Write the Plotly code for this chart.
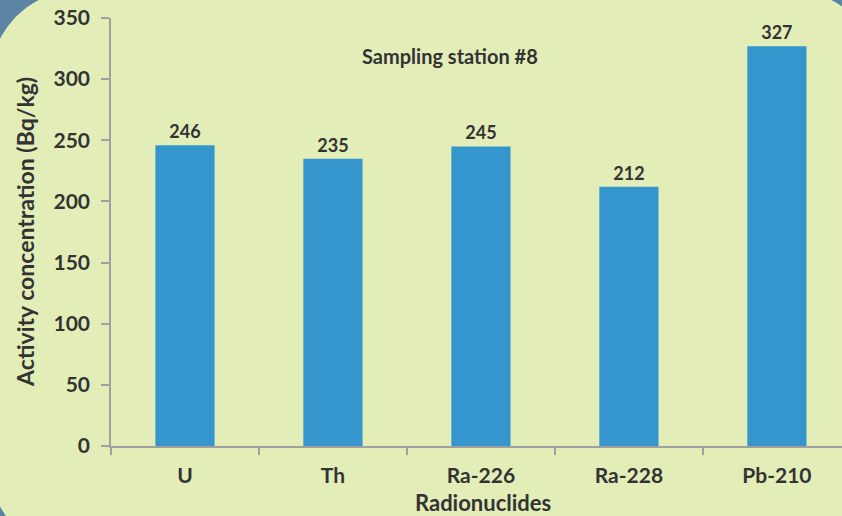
import plotly.graph_objects as go

categories = ["U", "Th", "Ra-226", "Ra-228", "Pb-210"]
values = [246, 235, 245, 212, 327]
y_ticks = [0, 50, 100, 150, 200, 250, 300, 350]

W, H = 842, 516
L, R, T, B = 111, 0, 18, 70
pw, ph = W - L - R, H - T - B

def px(x):
    return (x - L) / pw

def py(y):
    return (H - B - y) / ph

# rounded background panel (pixel coords -> paper coords)
x0, x1, y0, y1, rad = -10, 880, -10, 555, 90
k = 0.5523 * rad
pts = [
    ("M", [(x0 + rad, y0)]),
    ("L", [(x1 - rad, y0)]),
    ("C", [(x1 - rad + k, y0), (x1, y0 + rad - k), (x1, y0 + rad)]),
    ("L", [(x1, y1 - rad)]),
    ("C", [(x1, y1 - rad + k), (x1 - rad + k, y1), (x1 - rad, y1)]),
    ("L", [(x0 + rad, y1)]),
    ("C", [(x0 + rad - k, y1), (x0, y1 - rad + k), (x0, y1 - rad)]),
    ("L", [(x0, y0 + rad)]),
    ("C", [(x0, y0 + rad - k), (x0 + rad - k, y0), (x0 + rad, y0)]),
]
path = ""
for cmd, ps in pts:
    path += cmd + " ".join(f"{px(a):.5f},{py(b):.5f}" for a, b in ps) + " "
path += "Z"

FONT = "Lato"
TXT = "#333333"

fig = go.Figure(
    go.Bar(
        x=categories,
        y=values,
        marker=dict(color="#3496CC", line=dict(width=0)),
        width=0.40,
        text=[str(v) for v in values],
        textposition="outside",
        textfont=dict(family=FONT, size=18, color=TXT, weight="bold"),
        cliponaxis=False,
    )
)

fig.update_layout(
    width=W,
    height=H,
    margin=dict(l=L, r=R, t=T, b=B),
    paper_bgcolor="#5B84A5",
    plot_bgcolor="rgba(0,0,0,0)",
    showlegend=False,
    font=dict(family=FONT, color=TXT),
    shapes=[
        dict(type="path", path=path, xref="paper", yref="paper",
             fillcolor="#E3EDB8", line=dict(width=0), layer="below")
    ],
    annotations=[
        dict(text="Sampling station #8", x=px(450), y=py(56), xref="paper", yref="paper",
             xanchor="center", yanchor="middle",
             showarrow=False, font=dict(family=FONT, size=20, color=TXT, weight="bold")),
        dict(text="Activity concentration (Bq/kg)", x=px(25), y=py(232), xref="paper", yref="paper",
             xanchor="center", yanchor="middle",
             showarrow=False, textangle=-90,
             font=dict(family=FONT, size=23, color=TXT, weight="bold")),
        dict(text="Radionuclides", x=px(483), y=py(503), xref="paper", yref="paper",
             xanchor="center", yanchor="middle",
             showarrow=False, font=dict(family=FONT, size=22, color=TXT, weight="bold")),
    ],
)

fig.update_xaxes(
    range=[-0.5, 4.44],
    showline=True, linecolor="#A0A0A0", linewidth=1.5,
    ticks="outside", tickson="boundaries", ticklen=7, tickcolor="#A0A0A0", tickwidth=1.5,
    tickfont=dict(family=FONT, size=21, color=TXT, weight="bold"),
    ticklabelstandoff=10,
    showgrid=False, zeroline=False,
)
fig.update_yaxes(
    range=[0, 350],
    tickvals=y_ticks,
    showline=True, linecolor="#A0A0A0", linewidth=1.5,
    ticks="outside", ticklen=8, tickcolor="#A0A0A0", tickwidth=1.5,
    tickfont=dict(family=FONT, size=21, color=TXT, weight="bold"),
    ticklabelstandoff=7,
    showgrid=False, zeroline=False,
)

fig.write_html(
    "out.html",
    config={"displayModeBar": False},
    post_script="document.body.style.margin='0';document.body.style.overflow='hidden';",
)
